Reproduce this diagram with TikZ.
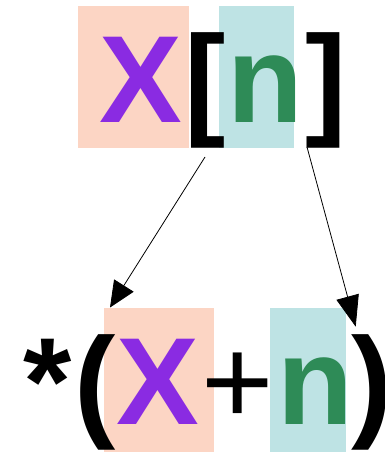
\documentclass[tikz,border=0pt]{standalone}
\usepackage{fontspec}
\setmainfont{Liberation Sans}
\usetikzlibrary{arrows.meta}
\definecolor{peach}{RGB}{252,213,196}
\definecolor{paleteal}{RGB}{190,227,228}
\definecolor{violetX}{RGB}{138,43,226}
\definecolor{greenN}{RGB}{46,139,87}
\tikzset{
  glyph/.style={inner sep=0pt, outer sep=0pt, anchor=base, font=\fontsize{124}{130}\selectfont\bfseries},
  thinglyph/.style={inner sep=0pt, outer sep=0pt, anchor=base, font=\fontsize{124}{130}\selectfont\mdseries},
  hbox/.style={inner sep=0pt, outer sep=0pt, anchor=north west, draw=none},
  arrL/.style={line width=0.8pt, -{Triangle[width=23pt,length=26pt]}},
  arrR/.style={line width=0.8pt, -{Triangle[width=23pt,length=31pt]}}
}
\begin{document}
\begin{tikzpicture}[x=1pt,y=-1pt]
\useasboundingbox (0,0) rectangle (385,452);
\clip (0,0) rectangle (385,452);
% highlight boxes
\node[hbox, fill=peach, minimum width=111pt, minimum height=142pt] (tboxX) at (78,6) {};
\node[hbox, fill=paleteal, minimum width=75pt, minimum height=142pt] (tboxN) at (219,6) {};
\node[hbox, fill=peach, minimum width=110pt, minimum height=146pt] (bboxX) at (104,308) {};
\node[hbox, fill=paleteal, minimum width=76pt, minimum height=146pt] (bboxN) at (270,308) {};
% top expression X[n]
\node[glyph, text=violetX] (tX) at (141,122) {X};
\node[glyph] (tLB) at (205,122) {[};
\node[glyph, text=greenN] (tN) at (265,122) {n};
\node[glyph] (tRB) at (326,122) {]};
% bottom expression *(X+n)
\node[glyph] (bStar) at (47.5,424) {*};
\node[glyph] (bLP) at (95,424) {(};
\node[glyph, text=violetX] (bX) at (158,424) {X};
\node[thinglyph] (bPlus) at (238,424) {+};
\node[glyph, text=greenN] (bN) at (315,424) {n};
\node[glyph] (bRP) at (372,424) {)};
% arrows
\coordinate (a1s) at (205,157);
\coordinate (a1e) at (110,307.5);
\coordinate (a2s) at (307,147);
\coordinate (a2e) at (355.7,326.7);
\draw[arrL] (a1s) -- (a1e);
\draw[arrR] (a2s) -- (a2e);
\end{tikzpicture}
\end{document}
